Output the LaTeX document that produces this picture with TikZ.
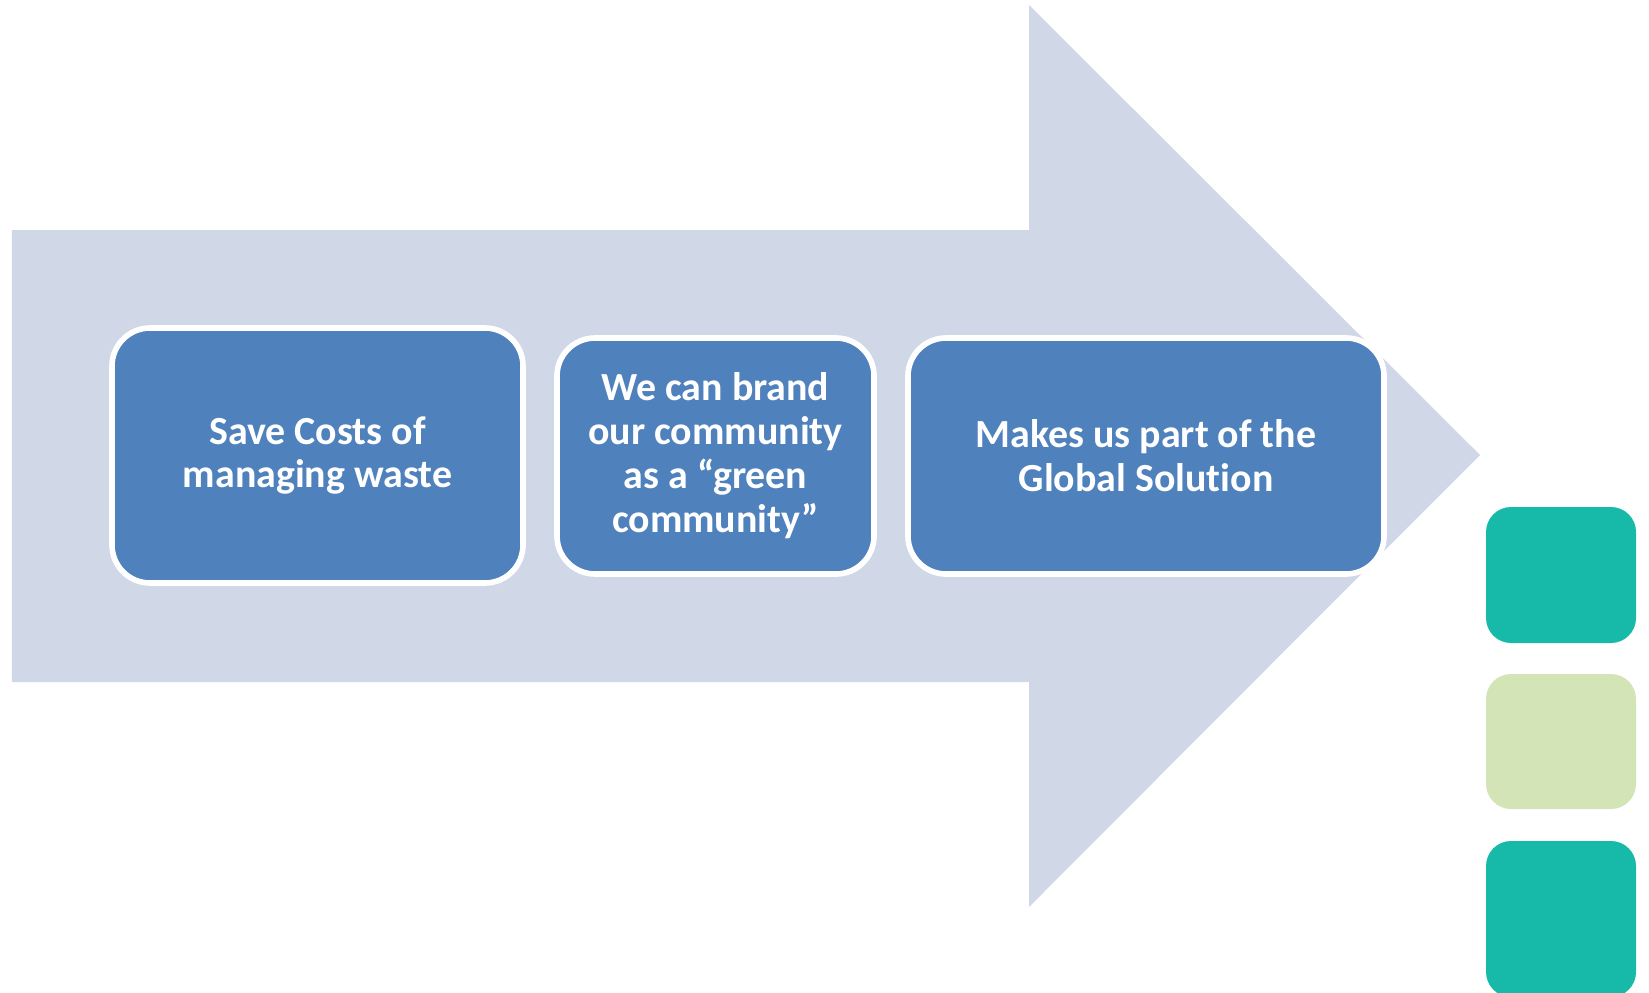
\documentclass[tikz,border=0pt]{standalone}
\usepackage{fontspec}
\setmainfont[Ligatures=NoCommon]{Carlito}
\usepackage{xcolor}
\usetikzlibrary{calc}
\definecolor{arrowgrey}{RGB}{208,216,232}
\definecolor{boxblue}{RGB}{79,129,189}
\definecolor{tealtile}{RGB}{23,185,168}
\definecolor{palegreen}{RGB}{211,229,182}

\begin{document}
\begin{tikzpicture}[transform shape,scale=1,
		benefit/.style={draw=white,line width=1.6pt,fill=boxblue,rounded corners=0.38cm,
			text=white,align=center,font=\bfseries\fontsize{11.35}{12.5}\selectfont},
		tile/.style={rounded corners=0.25cm,minimum width=1.5cm,inner sep=0pt}]
		\clip (0,0) rectangle (16.49,9.92);
		\fill[arrowgrey] (0.12,3.10)--(10.29,3.10)--(10.29,0.85)--(14.80,5.37)--(10.29,9.87)--(10.29,7.62)--(0.12,7.62)--cycle;
		\node[benefit,minimum width=4.11cm,minimum height=2.55cm] (save) at (3.175,5.365) {Save Costs of\\managing waste};
		\node[benefit,minimum width=3.17cm,minimum height=2.36cm] (brand) at (7.155,5.36) {We can brand\\our community\\as a “green\\community”};
		\node[benefit,minimum width=4.76cm,minimum height=2.36cm] (global) at (11.46,5.36) {Makes us part of the\\Global Solution};
		\node[tile,fill=tealtile,minimum height=1.36cm] (tileA) at (15.61,4.17) {};
		\node[tile,fill=palegreen,minimum height=1.35cm] (tileB) at (15.61,2.505) {};
		\node[tile,fill=tealtile,minimum height=1.56cm] (tileC) at (15.61,0.73) {};
	\end{tikzpicture}
\end{document}
